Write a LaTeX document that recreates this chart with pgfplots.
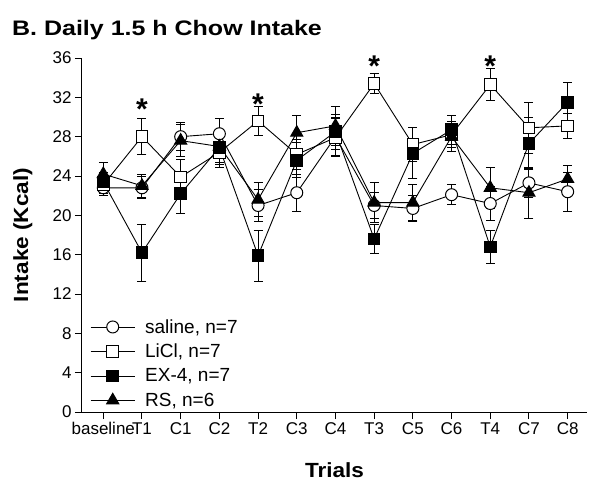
\documentclass[border=0pt]{standalone}
\usepackage{fontspec}
\setmainfont{Liberation Sans}
\newfontfamily\titlefont[FakeStretch=1.19]{Liberation Sans}
\newfontfamily\labelfont[FakeStretch=1.1]{Liberation Sans}
\usepackage{pgfplots}
\pgfplotsset{compat=1.18}
\usepackage{pgfplotstable}

\pgfplotstableread{
x y e
0 22.8 0.8
1 22.8 1.1
2 28.0 1.4
3 28.3 1.5
4 21.0 1.6
5 22.3 1.9
6 28.0 1.9
7 21.0 1.3
8 20.7 1.3
9 22.1 1.0
10 21.2 1.7
11 23.3 1.5
12 22.4 2.0
}\saline
\pgfplotstableread{
x y e
0 23.1 0.9
1 28.0 1.8
2 23.9 1.8
3 26.4 1.5
4 29.6 1.5
5 26.2 1.5
6 27.9 1.9
7 33.4 1.0
8 27.2 1.7
9 28.2 1.3
10 33.3 1.6
11 28.9 2.6
12 29.1 1.3
}\licl
\pgfplotstableread{
x y e
0 23.4 1.0
1 16.2 2.9
2 22.2 2.0
3 26.9 1.7
4 15.9 2.6
5 25.6 1.8
6 28.5 1.8
7 17.6 1.5
8 26.3 2.6
9 28.7 1.5
10 16.8 1.7
11 27.3 2.6
12 31.5 2.0
}\exfour
\pgfplotstableread{
x y e
0 24.2 1.2
1 23.0 1.2
2 27.6 1.6
3 27.0 1.6
4 21.6 1.7
5 28.4 1.8
6 29.1 2.0
7 21.3 2.0
8 21.3 1.8
9 28.0 1.5
10 22.8 2.1
11 22.3 2.6
12 23.7 1.4
}\rs

\begin{document}
\begin{tikzpicture}
\begin{axis}[
  width=505pt, height=354pt, scale only axis,
  xmin=-0.55, xmax=12.5, ymin=0, ymax=36,
  axis x line*=bottom, axis y line*=left,
  axis line style={-, line width=1pt},
  xtick={0,...,12},
  xticklabels={baseline,T1,C1,C2,T2,C3,C4,T3,C5,C6,T4,C7,C8},
  ytick={0,4,...,36},
  tick align=outside, major tick length=7pt,
  tick style={black, line width=1pt},
  ticklabel style={font=\fontsize{17}{17}\selectfont},
  /pgf/number format/assume math mode=true,
  xlabel={Trials}, ylabel={Intake (Kcal)},
  label style={font=\labelfont\bfseries\fontsize{20.5}{20.5}\selectfont},
  xlabel style={at={(axis description cs:0.5,0)}, anchor=center, yshift=-58pt},
  ylabel style={at={(axis description cs:-0.117,0.5)}, anchor=center},
  clip=false,
  legend cell align=left,
  legend style={at={(0.016,0.268)}, anchor=north west, draw=none, fill=none,
    font=\fontsize{19}{19}\selectfont, row sep=5.5pt, inner sep=0pt},
  legend image code/.code={\draw[mark repeat=2,mark phase=2,#1] plot coordinates {(0pt,0pt) (22pt,0pt) (44pt,0pt)}; \path (52pt,0pt);},
  every axis plot/.append style={black, line width=0.9pt},
  error bars/error bar style={line width=1pt},
  error bars/error mark options={rotate=90, mark size=4.5pt, line width=1pt},
]
\addplot+[black, mark=*, mark size=6pt, mark options={fill=white, solid, line width=1pt},
  error bars/.cd, y dir=both, y explicit] table[x=x, y=y, y error=e] {\saline};
\addlegendentry{saline, n=7}
\addplot+[black, mark=square*, mark size=5.8pt, mark options={fill=white, solid, line width=1pt},
  error bars/.cd, y dir=both, y explicit] table[x=x, y=y, y error=e] {\licl};
\addlegendentry{LiCl, n=7}
\addplot+[black, mark=square*, mark size=5.8pt, mark options={fill=black, solid, line width=1pt},
  error bars/.cd, y dir=both, y explicit] table[x=x, y=y, y error=e] {\exfour};
\addlegendentry{EX-4, n=7}
\addplot+[black, mark=triangle*, mark size=7pt, mark options={fill=black, solid, line width=1pt},
  error bars/.cd, y dir=both, y explicit] table[x=x, y=y, y error=e] {\rs};
\addlegendentry{RS, n=6}
\node[anchor=base, font=\bfseries\fontsize{30}{30}\selectfont] at (axis cs:1,29.7) {*};
\node[anchor=base, font=\bfseries\fontsize{30}{30}\selectfont] at (axis cs:4,30.3) {*};
\node[anchor=base, font=\bfseries\fontsize{30}{30}\selectfont] at (axis cs:7,34.1) {*};
\node[anchor=base, font=\bfseries\fontsize{30}{30}\selectfont] at (axis cs:10,34.1) {*};
\end{axis}
\node[anchor=base west, inner sep=0pt, font=\titlefont\bfseries\fontsize{21}{21}\selectfont] at (-70pt,376pt) {B. Daily 1.5 h Chow Intake};
\pgfresetboundingbox
\path (-82pt,-81pt) rectangle (518pt,412pt);
\end{tikzpicture}
\end{document}
